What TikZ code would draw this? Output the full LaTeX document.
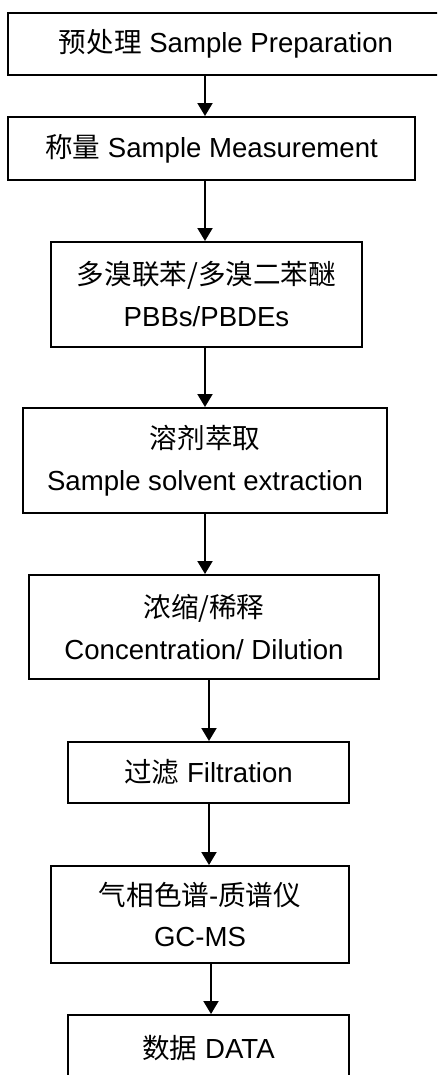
\documentclass[tikz,border=0pt]{standalone}
\usepackage{fontspec}
\setmainfont{Liberation Sans}
\newfontfamily\cjk{Noto Sans CJK SC}
\usetikzlibrary{arrows.meta,positioning}

\tikzset{
  stepbox/.style={draw, line width=1.1pt, align=center, inner sep=0pt,
    font=\fontsize{15.7}{23.9}\selectfont},
  flow/.style={line width=1.1pt, -{Triangle[width=0.3cm,length=0.26cm]}}
}

\begin{document}
\begin{tikzpicture}[x=0.02cm,y=-0.02cm]
\useasboundingbox (0,0) rectangle (437,1075);
\clip (0,0) rectangle (437,1075);
% process steps
\node[stepbox, minimum width=8.72cm, minimum height=1.24cm] (b1) at (226,44)
  {{\cjk 预处理} Sample Preparation};
\node[stepbox, minimum width=8.14cm, minimum height=1.26cm] (b2) at (211.5,148.5)
  {{\cjk 称量} Sample Measurement};
\node[stepbox, minimum width=6.22cm, minimum height=2.10cm] (b3) at (206.5,294.5)
  {{\cjk 多溴联苯/多溴二苯醚}\\PBBs/PBDEs};
\node[stepbox, minimum width=7.28cm, minimum height=2.10cm] (b4) at (205,460.5)
  {{\cjk 溶剂萃取}\\Sample solvent extraction};
\node[stepbox, minimum width=7.00cm, minimum height=2.08cm] (b5) at (204,627)
  {{\cjk 浓缩/稀释}\\Concentration/ Dilution};
\node[stepbox, minimum width=5.62cm, minimum height=1.22cm] (b6) at (208.5,772.5)
  {{\cjk 过滤} Filtration};
\node[stepbox, minimum width=5.96cm, minimum height=1.94cm] (b7) at (200,914.5)
  {{\cjk 气相色谱}-{\cjk 质谱仪}\\GC-MS};
\node[stepbox, minimum width=5.62cm, minimum height=1.32cm] (b8) at (208.5,1048)
  {{\cjk 数据} DATA};
% arrows
\foreach \a/\b/\x in {b1/b2/205, b2/b3/205, b3/b4/205, b4/b5/205,
                      b5/b6/209, b6/b7/209, b7/b8/211}{
  \coordinate (ax) at (\x,0);
  \draw[flow] (\a.south -| ax) -- (\b.north -| ax);
}
\end{tikzpicture}
\end{document}
